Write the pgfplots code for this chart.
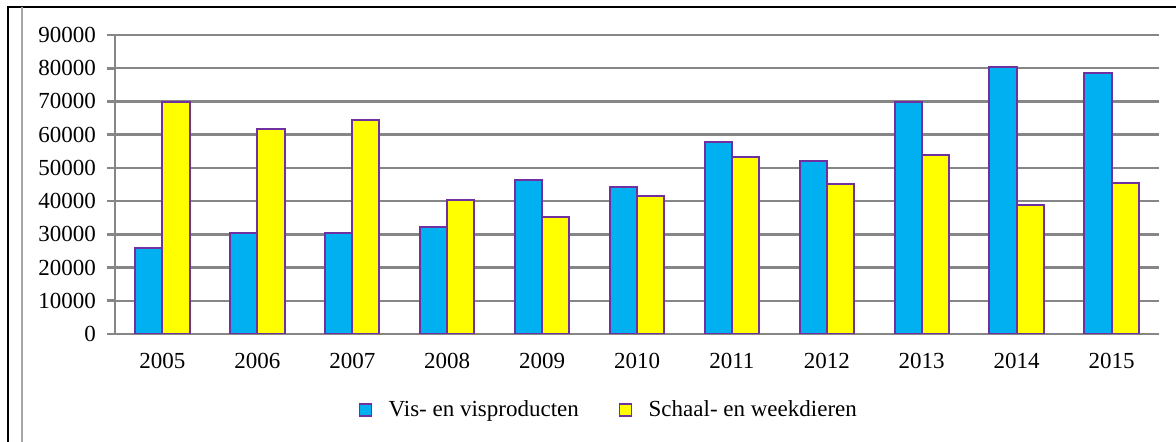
\documentclass[border=0pt]{standalone}
\usepackage{fontspec}
\setmainfont{Liberation Serif}
\usepackage{pgfplots}
\pgfplotsset{compat=1.18}
\definecolor{barblue}{HTML}{00B0F0}
\definecolor{baryellow}{HTML}{FFFF00}
\definecolor{barpurple}{HTML}{7030A0}
\definecolor{gridgray}{HTML}{868686}
\begin{document}
\begin{tikzpicture}
\begin{axis}[
  at={(57.5pt,54pt)}, anchor=south west,
  scale only axis, width=522pt, height=149.5pt,
  ybar=0pt, bar width=13.6pt,
  xmin=-0.5, xmax=10.5, ymin=0, ymax=90000,
  xtick={0,...,10},
  xticklabels={2005,2006,2007,2008,2009,2010,2011,2012,2013,2014,2015},
  minor xtick={-0.5,0.5,...,10.5},
  ytick={0,10000,...,90000},
  scaled y ticks=false,
  /pgf/number format/1000 sep={},
  /pgf/number format/assume math mode=true,
  axis x line*=bottom, axis y line*=left,
  axis line style={gridgray, line width=1.3pt, -},
  tick align=outside,
  x tick style={draw=none},
  minor x tick style={gridgray, line width=1.3pt},
  y tick style={gridgray, line width=1.3pt},
  major tick length=4pt, minor tick length=4.5pt,
  ymajorgrids, grid style={gridgray, line width=1.2pt},
  tick label style={font=\fontsize{11.5pt}{13pt}\selectfont},
  xticklabel style={yshift=-2pt},
  yticklabel style={xshift=-2pt},
  legend style={at={(0.474,-0.254)}, anchor=center, draw=none, fill=none,
    legend columns=2, font=\fontsize{11.5pt}{13pt}\selectfont,
    /tikz/every even column/.append style={column sep=18pt}},
  legend image code/.code={\draw[#1, line width=0.8pt] (0pt,-3pt) rectangle (6pt,3pt); \path (12pt,0pt);},
]
\addplot[fill=barblue, draw=barpurple, line width=1pt] coordinates {
(0,26000) (1,30400) (2,30300) (3,32300) (4,46300) (5,44300) (6,57800) (7,52000) (8,69700) (9,80300) (10,78700)};
\addplot[fill=baryellow, draw=barpurple, line width=1pt] coordinates {
(0,69900) (1,61600) (2,64300) (3,40400) (4,35100) (5,41600) (6,53200) (7,45000) (8,53900) (9,38700) (10,45300)};
\legend{Vis- en visproducten, Schaal- en weekdieren}
\end{axis}
\pgfresetboundingbox
\useasboundingbox (0,0) rectangle (588pt,221pt);
\draw[black, line width=0.8pt] (4pt,0) -- (4pt,217.5pt) -- (588pt,217.5pt);
\draw[gray!70, line width=1pt] (11pt,0) -- (11pt,217.5pt);
\end{tikzpicture}
\end{document}
